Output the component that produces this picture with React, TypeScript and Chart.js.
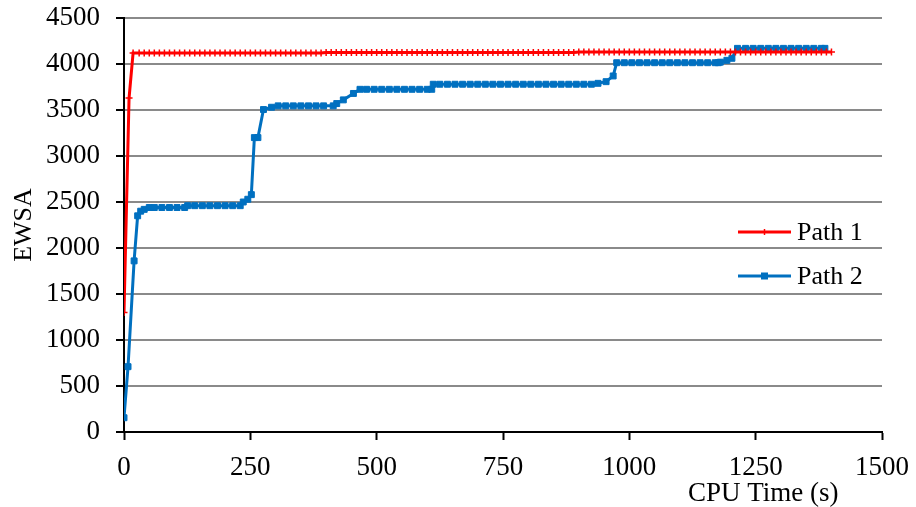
import { useEffect, useRef } from "react";
import { Chart, registerables } from "chart.js";

Chart.register(...registerables);

const seriesNames = ["Path 1", "Path 2"];
const xTitle = "CPU Time (s)";
const yTitle = "EWSA";
const xTicks = [0, 250, 500, 750, 1000, 1250, 1500];
const yTicks = [0, 500, 1000, 1500, 2000, 2500, 3000, 3500, 4000, 4500];

const path1Time = [
  0, 10, 18, 30, 40, 50, 60, 70, 80, 90, 100, 110, 120, 130, 140, 150, 160, 170, 180, 190,
  200, 210, 220, 230, 240, 250, 260, 270, 280, 290, 300, 310, 320, 330, 340, 350, 360, 370, 380, 390,
  400, 410, 420, 430, 440, 450, 460, 470, 480, 490, 500, 510, 520, 530, 540, 550, 560, 570, 580, 590,
  600, 610, 620, 630, 640, 650, 660, 670, 680, 690, 700, 710, 720, 730, 740, 750, 760, 770, 780, 790,
  800, 810, 820, 830, 840, 850, 860, 870, 880, 890, 900, 910, 920, 930, 940, 950, 960, 970, 980, 990,
  1000, 1010, 1020, 1030, 1040, 1050, 1060, 1070, 1080, 1090, 1100, 1110, 1120, 1130, 1140, 1150, 1160, 1170, 1180, 1190,
  1200, 1210, 1220, 1230, 1240, 1250, 1260, 1270, 1280, 1290, 1300, 1310, 1320, 1330, 1340, 1350, 1360, 1370, 1380, 1390,
  1400,
];
const path1Ewsa = [
  1300, 3630, 4120, 4120, 4120, 4120, 4120, 4120, 4120, 4120, 4120, 4120, 4120, 4120, 4120, 4120, 4120, 4120, 4120, 4120,
  4120, 4120, 4120, 4120, 4120, 4120, 4120, 4120, 4120, 4120, 4120, 4120, 4120, 4120, 4120, 4120, 4120, 4120, 4120, 4120,
  4125, 4125, 4125, 4125, 4125, 4125, 4125, 4125, 4125, 4125, 4125, 4125, 4125, 4125, 4125, 4125, 4125, 4125, 4125, 4125,
  4125, 4125, 4125, 4125, 4125, 4125, 4125, 4125, 4125, 4125, 4125, 4125, 4125, 4125, 4125, 4125, 4125, 4125, 4125, 4125,
  4125, 4125, 4125, 4125, 4125, 4125, 4125, 4125, 4125, 4125, 4130, 4130, 4130, 4130, 4130, 4130, 4130, 4130, 4130, 4130,
  4130, 4130, 4130, 4130, 4130, 4130, 4130, 4130, 4130, 4130, 4130, 4130, 4130, 4130, 4130, 4130, 4130, 4130, 4130, 4130,
  4130, 4130, 4130, 4130, 4130, 4130, 4130, 4130, 4130, 4130, 4130, 4130, 4130, 4130, 4130, 4130, 4130, 4130, 4130, 4130,
  4130,
];

const path2Time = [
  0, 8, 20, 27, 33, 40, 50, 60, 75, 90,
  105, 120, 126, 140, 155, 170, 185, 200, 215, 230,
  236, 245, 252, 258, 265, 276, 292, 305, 320, 335,
  350, 365, 380, 395, 414, 421, 434, 454, 467, 480,
  495, 510, 525, 540, 555, 570, 585, 600, 609, 612,
  625, 640, 655, 670, 685, 700, 715, 730, 745, 760,
  775, 790, 805, 820, 835, 850, 865, 880, 895, 910,
  925, 938, 954, 968, 975, 990, 1005, 1020, 1035, 1050,
  1065, 1080, 1095, 1110, 1125, 1140, 1155, 1170, 1176, 1180,
  1193, 1203, 1214, 1230, 1245, 1260, 1275, 1290, 1305, 1320,
  1335, 1350, 1365, 1380, 1387,
];
const path2Ewsa = [
  155, 710, 1860, 2350, 2400, 2420, 2440, 2440, 2440, 2440,
  2440, 2440, 2460, 2460, 2460, 2460, 2460, 2460, 2460, 2460,
  2500, 2530, 2580, 3200, 3200, 3505, 3530, 3545, 3545, 3545,
  3545, 3545, 3545, 3545, 3545, 3570, 3610, 3680, 3725, 3725,
  3725, 3725, 3725, 3725, 3725, 3725, 3725, 3725, 3725, 3780,
  3780, 3780, 3780, 3780, 3780, 3780, 3780, 3780, 3780, 3780,
  3780, 3780, 3780, 3780, 3780, 3780, 3780, 3780, 3780, 3780,
  3780, 3790, 3808, 3870, 4014, 4014, 4014, 4014, 4014, 4014,
  4014, 4014, 4014, 4014, 4014, 4014, 4014, 4014, 4014, 4020,
  4040, 4062, 4170, 4170, 4170, 4170, 4170, 4170, 4170, 4170,
  4170, 4170, 4170, 4170, 4170,
];

const RED = "#FF0000";
const BLUE = "#0070C0";
const FONT = '"Liberation Serif", "Times New Roman", serif';

const overlayPlugin = {
  id: "overlay",
  afterDraw(chart: any) {
    const ctx = chart.ctx as CanvasRenderingContext2D;
    const xs = chart.scales.x;
    const area = chart.chartArea;
    ctx.save();
    ctx.fillStyle = "#000";
    ctx.font = `27px ${FONT}`;
    ctx.textAlign = "center";
    ctx.textBaseline = "alphabetic";
    ctx.fillText(xTitle, xs.getPixelForValue(1265), 501);

    const items = [
      { label: seriesNames[0], color: RED, marker: "cross" },
      { label: seriesNames[1], color: BLUE, marker: "rect" },
    ];
    const lx = area.right - 144;
    items.forEach((it, i) => {
      const y = 232 + i * 44;
      ctx.strokeStyle = it.color;
      ctx.lineWidth = 3;
      ctx.beginPath();
      ctx.moveTo(lx, y);
      ctx.lineTo(lx + 53, y);
      ctx.stroke();
      const cx = lx + 26.5;
      if (it.marker === "rect") {
        ctx.fillStyle = it.color;
        ctx.fillRect(cx - 3.5, y - 3.5, 7, 7);
      } else {
        ctx.lineWidth = 1.5;
        ctx.beginPath();
        ctx.moveTo(cx, y - 3);
        ctx.lineTo(cx, y + 3);
        ctx.stroke();
      }
      ctx.fillStyle = "#000";
      ctx.font = `26px ${FONT}`;
      ctx.textAlign = "left";
      ctx.textBaseline = "middle";
      ctx.fillText(it.label, lx + 59, y + 1);
    });
    ctx.restore();
  },
};

export default function App() {
  const ref = useRef<HTMLCanvasElement | null>(null);
  useEffect(() => {
    if (!ref.current) return;
    const chart = new Chart(ref.current, {
      type: "line",
      data: {
        datasets: [
          {
            label: seriesNames[0],
            data: path1Time.map((t, i) => ({ x: t, y: path1Ewsa[i] })),
            borderColor: RED,
            backgroundColor: RED,
            borderWidth: 3,
            pointStyle: "cross",
            pointRadius: 3.5,
            pointBorderWidth: 1.5,
            pointBorderColor: RED,
            tension: 0,
          },
          {
            label: seriesNames[1],
            data: path2Time.map((t, i) => ({ x: t, y: path2Ewsa[i] })),
            borderColor: BLUE,
            backgroundColor: BLUE,
            borderWidth: 3,
            pointStyle: "rect",
            pointRadius: 4.2,
            pointBorderWidth: 1,
            pointBorderColor: BLUE,
            tension: 0,
          },
        ],
      },
      options: {
        responsive: false,
        animation: false,
        layout: { padding: { top: 18, right: 34, bottom: 0, left: 0 } },
        plugins: {
          legend: { display: false },
          tooltip: { enabled: false },
        },
        scales: {
          x: {
            type: "linear",
            min: xTicks[0],
            max: xTicks[xTicks.length - 1],
            afterFit: (s: any) => {
              s.height = 75;
              s.paddingLeft = 0;
              s.paddingRight = 0;
            },
            afterBuildTicks: (s: any) => {
              s.ticks = xTicks.map((v) => ({ value: v }));
            },
            ticks: {
              color: "#000",
              font: { family: FONT, size: 27 },
              padding: 12,
              maxRotation: 0,
              callback: (v: any) => String(v),
            },
            grid: {
              drawOnChartArea: false,
              drawTicks: true,
              tickLength: 8,
              tickColor: "#000",
              tickWidth: 2,
            },
            border: { color: "#000", width: 2 },
          },
          y: {
            type: "linear",
            min: yTicks[0],
            max: yTicks[yTicks.length - 1],
            afterFit: (s: any) => {
              s.width = 124;
              s.paddingTop = 0;
              s.paddingBottom = 0;
            },
            afterBuildTicks: (s: any) => {
              s.ticks = yTicks.map((v) => ({ value: v }));
            },
            ticks: {
              color: "#000",
              font: { family: FONT, size: 27 },
              padding: 16,
              callback: (v: any) => String(v),
            },
            grid: {
              color: "#8A8A8A",
              lineWidth: 2,
              drawTicks: true,
              tickLength: 8,
              tickColor: "#000",
              tickWidth: 2,
            },
            border: { color: "#000", width: 2 },
            title: {
              display: true,
              text: yTitle,
              color: "#000",
              font: { family: FONT, size: 26 },
              padding: { top: 9, bottom: 0 },
            },
          },
        },
      },
      plugins: [overlayPlugin],
    });
    return () => chart.destroy();
  }, []);
  return (
    <canvas
      ref={ref}
      width={916}
      height={507}
      style={{ position: "absolute", left: 0, top: 0, width: 916, height: 507 }}
    />
  );
}
